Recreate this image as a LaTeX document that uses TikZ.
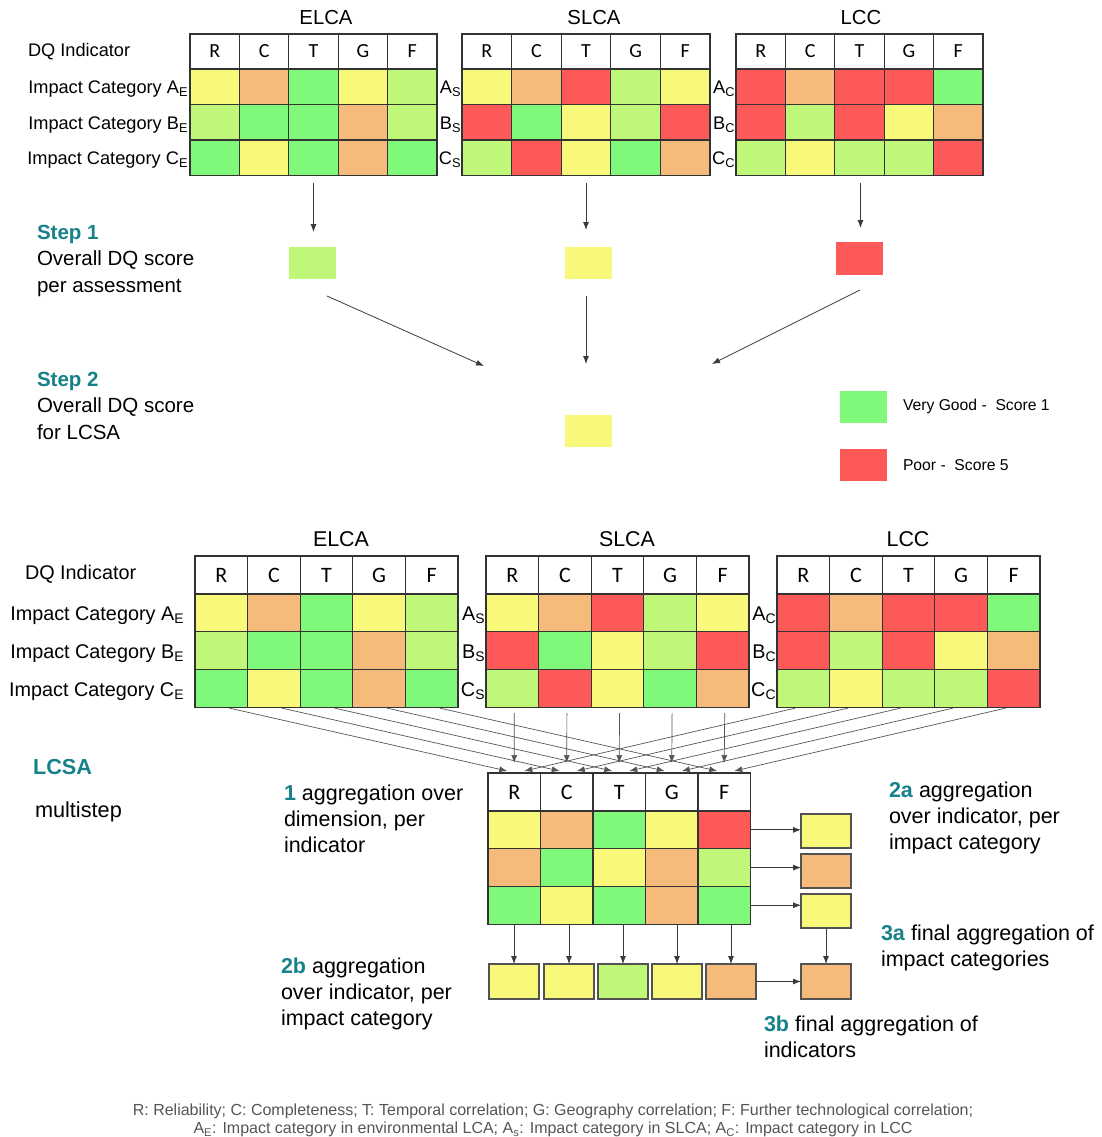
\documentclass[tikz,border=0pt]{standalone}
\usepackage{fontspec}
\setmainfont{Liberation Sans}
\newfontfamily\hdrfam{Carlito}
\usetikzlibrary{arrows.meta,calc}

% score colours
\definecolor{cG}{HTML}{80F97B}
\definecolor{cL}{HTML}{BFF878}
\definecolor{cY}{HTML}{F8F87A}
\definecolor{cO}{HTML}{F6BA7B}
\definecolor{cR}{HTML}{FD5959}
\definecolor{teal1}{HTML}{17818A}
\definecolor{gridc}{HTML}{333333}
\definecolor{linec}{HTML}{3A3A3A}
\definecolor{thinc}{HTML}{555555}
\definecolor{capc}{HTML}{555555}

\newcommand\setfs[2]{\fontsize{#1}{#2}\selectfont}

% DQ table: #1 name, #2 left, #3 top, #4 cell width, #5 header height,
% #6 row height, #7 header font size, #8 rows of cell colours
\newcommand\dqtable[8]{%
  \foreach \h [count=\c] in {R,C,T,G,F}
    \node[hcell,minimum width=#4,minimum height=#5,font=\hdrfam\setfs{#7}{#7}]
      (#1-h-\c) at ({#2+(\c-1)*#4},#3) {\h};
  \foreach \rowc [count=\r] in {#8} {
    \foreach \cc [count=\c] in \rowc
      \node[dcell,fill=\cc,minimum width=#4,minimum height=#6]
        (#1-\r-\c) at ({#2+(\c-1)*#4},{#3+#5+(\r-1)*#6}) {};
  }%
}

\begin{document}
\begin{tikzpicture}[x=1pt,y=-1pt,
  hcell/.style={draw=gridc,line width=1.2pt,fill=white,anchor=north west,inner sep=0pt,outer sep=0pt},
  dcell/.style={draw=gridc,line width=1.2pt,anchor=north west,inner sep=0pt,outer sep=0pt},
  txt/.style={inner sep=0pt,outer sep=0pt},
  arr/.style={draw=linec,line width=0.8pt,-{Latex[length=8pt,width=6pt]}},
  thinarr/.style={draw=thinc,line width=0.7pt,-{Latex[length=8pt,width=6pt]}},
  sbox/.style={minimum width=47pt,minimum height=32pt,inner sep=0pt,outer sep=0pt},
  abox/.style={draw=gridc!85,line width=1.2pt,minimum width=50pt,minimum height=34pt,inner sep=0pt,outer sep=0pt},
  toplab/.style={txt,font=\setfs{18.2}{20}},
  botlab/.style={txt,font=\setfs{19.8}{23}},
  blocktxt/.style={txt,anchor=north west,align=left,font=\setfs{21.5}{26}},
]
\useasboundingbox (0,0) rectangle (1101,1137);

% ---------- upper part: per-assessment tables ----------
\dqtable{te}{190}{34}{49.4}{35}{35.5}{20}{{cY,cO,cG,cY,cL},{cL,cG,cG,cO,cL},{cG,cY,cG,cO,cG}}
\dqtable{ts}{462}{34}{49.6}{35}{35.5}{20}{{cY,cO,cR,cL,cY},{cR,cG,cY,cL,cR},{cL,cR,cY,cG,cO}}
\dqtable{tc}{736}{34}{49.4}{35}{35.5}{20}{{cR,cO,cR,cR,cG},{cR,cL,cR,cY,cO},{cL,cY,cL,cL,cR}}

\node[txt,font=\setfs{20.3}{22}] (tte) at (326,18) {ELCA};
\node[txt,font=\setfs{20.3}{22}] (tts) at (594,18) {SLCA};
\node[txt,font=\setfs{20.3}{22}] (ttc) at (861,18) {LCC};

\node[toplab,anchor=mid west] (tdq) at (28,54) {DQ Indicator};
\node[toplab,anchor=mid east] (tia) at (188,91) {Impact Category A\textsubscript{E}};
\node[toplab,anchor=mid east] (tib) at (188,127) {Impact Category B\textsubscript{E}};
\node[toplab,anchor=mid east] (tic) at (188,162) {Impact Category C\textsubscript{E}};
\node[toplab,anchor=mid east] (tsa) at (461,91) {A\textsubscript{S}};
\node[toplab,anchor=mid east] (tsb) at (461,127) {B\textsubscript{S}};
\node[toplab,anchor=mid east] (tsc) at (461,162) {C\textsubscript{S}};
\node[toplab,anchor=mid east] (tca) at (735,91) {A\textsubscript{C}};
\node[toplab,anchor=mid east] (tcb) at (735,127) {B\textsubscript{C}};
\node[toplab,anchor=mid east] (tcc) at (735,162) {C\textsubscript{C}};

% step 1 scores
\node[sbox,fill=cL] (p1) at (312.5,263) {};
\node[sbox,fill=cY] (p2) at (588,263) {};
\node[sbox,fill=cR,minimum height=33pt] (p3) at (859.5,258.5) {};
\draw[arr] ($(te-3-3.south)+(0,7)$) -- ($(te-3-3.south |- p1.north)+(0,-15)$);
\draw[arr] ($(ts-3-3.south)+(0,7)$) -- ($(ts-3-3.south |- p2.north)+(0,-17)$);
\draw[arr] ($(tc-3-3.south)+(1,7)$) -- ($(tc-3-3.south |- p3.north)+(1,-14)$);

% step 2 score
\coordinate (q1) at (484,366);
\coordinate (q2) at (586,364);
\coordinate (q3) at (712,364);
\draw[arr] ($(p1.south)+(14.5,17)$) -- (q1);
\draw[arr] ($(p2.south)+(-2,17)$) -- (q2);
\draw[arr] ($(p3.south)+(0.5,15)$) -- (q3);
\node[sbox,fill=cY] (p4) at (588,431) {};

\node[txt,anchor=north west,align=left,font=\setfs{20.5}{26.5}] (st1) at (37,225)
  {\textcolor{teal1}{\textbf{Step 1}}\\Overall DQ score\\per assessment};
\node[txt,anchor=north west,align=left,font=\setfs{20.5}{26.5}] (st2) at (37,372)
  {\textcolor{teal1}{\textbf{Step 2}}\\Overall DQ score\\for LCSA};

% legend
\node[sbox,fill=cG] (lg1) at (863.5,407) {};
\node[sbox,fill=cR] (lg2) at (863.5,465) {};
\node[txt,anchor=mid west,font=\setfs{15.7}{18}] (lt1) at (903,408) {Very Good -\ \ Score 1};
\node[txt,anchor=mid west,font=\setfs{15.7}{18}] (lt2) at (903,468) {Poor -\ \ Score 5};

% ---------- lower part: multistep aggregation ----------
\dqtable{be}{195}{556}{52.6}{38}{37.7}{22}{{cY,cO,cG,cY,cL},{cL,cG,cG,cO,cL},{cG,cY,cG,cO,cG}}
\dqtable{bs}{486}{556}{52.6}{38}{37.7}{22}{{cY,cO,cR,cL,cY},{cR,cG,cY,cL,cR},{cL,cR,cY,cG,cO}}
\dqtable{bc}{777}{556}{52.6}{38}{37.7}{22}{{cR,cO,cR,cR,cG},{cR,cL,cR,cY,cO},{cL,cY,cL,cL,cR}}

\node[txt,font=\setfs{21.4}{23}] (bte) at (341,539) {ELCA};
\node[txt,font=\setfs{21.4}{23}] (bts) at (627,539) {SLCA};
\node[txt,font=\setfs{21.4}{23}] (btc) at (908,539) {LCC};

\node[botlab,anchor=mid west] (bdq) at (25,577) {DQ Indicator};
\node[botlab,anchor=mid east] (bia) at (184,618) {Impact Category A\textsubscript{E}};
\node[botlab,anchor=mid east] (bib) at (184,656) {Impact Category B\textsubscript{E}};
\node[botlab,anchor=mid east] (bic) at (184,694) {Impact Category C\textsubscript{E}};
\node[botlab,anchor=mid east] (bsa) at (485,618) {A\textsubscript{S}};
\node[botlab,anchor=mid east] (bsb) at (485,656) {B\textsubscript{S}};
\node[botlab,anchor=mid east] (bsc) at (485,694) {C\textsubscript{S}};
\node[botlab,anchor=mid east] (bca) at (776,618) {A\textsubscript{C}};
\node[botlab,anchor=mid east] (bcb) at (776,656) {B\textsubscript{C}};
\node[botlab,anchor=mid east] (bcc) at (776,694) {C\textsubscript{C}};

% aggregated table
\dqtable{ag}{488}{773}{52.5}{38}{37.7}{22}{{cY,cO,cG,cY,cR},{cO,cG,cY,cO,cL},{cG,cY,cG,cO,cG}}

% converging connectors into the aggregated table
\foreach \i in {1,...,5} {
  \draw[thinarr] ($(be-3-\i.south)+(8,1)$) -- ($(ag-h-\i.north)+(-7,-2)$);
  \draw[thinarr] ($(bs-3-\i.south)+(2,6)$) -- ($(ag-h-\i.north)+(0,-10)$);
  \draw[thinarr] ($(bc-3-\i.south)+(-8,1)$) -- ($(ag-h-\i.north)+(10,-2)$);
}

% per impact category (right) and per indicator (bottom)
\node[abox,fill=cY] (rb1) at (826,831) {};
\node[abox,fill=cO] (rb2) at (826,871) {};
\node[abox,fill=cY] (rb3) at (826,911) {};
\node[abox,fill=cY,minimum height=35pt] (bb1) at (514,981.5) {};
\node[abox,fill=cY,minimum height=35pt] (bb2) at (569,981.5) {};
\node[abox,fill=cL,minimum height=35pt] (bb3) at (623,981.5) {};
\node[abox,fill=cY,minimum height=35pt] (bb4) at (677,981.5) {};
\node[abox,fill=cO,minimum height=35pt] (bb5) at (731,981.5) {};
\node[abox,fill=cO,minimum height=35pt] (fb) at (826,981.5) {};

\foreach \i in {1,2,3}
  \draw[arr] (ag-\i-5.east) -- (ag-\i-5.east -| rb\i.west);
\foreach \i in {1,...,5}
  \draw[arr] (bb\i.north |- ag-3-\i.south) -- (bb\i.north);
\draw[arr] (rb3.south) -- (fb.north);
\draw[arr] (bb5.east) -- (fb.west);

% explanatory labels
\node[txt,anchor=mid west,font=\setfs{21.7}{24}\bfseries,text=teal1] (lcsa) at (33,772) {LCSA};
\node[txt,anchor=mid west,font=\setfs{21.7}{24}] (mstep) at (35,815) {multistep};
\node[blocktxt] (l1) at (284,785)
  {\textcolor{teal1}{\textbf{1}} aggregation over\\dimension, per\\indicator};
\node[blocktxt] (l2a) at (889,782)
  {\textcolor{teal1}{\textbf{2a}} aggregation\\over indicator, per\\impact category};
\node[blocktxt] (l3a) at (881,925)
  {\textcolor{teal1}{\textbf{3a}} final aggregation of\\impact categories};
\node[blocktxt] (l2b) at (281,958)
  {\textcolor{teal1}{\textbf{2b}} aggregation\\over indicator, per\\impact category};
\node[blocktxt] (l3b) at (764,1016)
  {\textcolor{teal1}{\textbf{3b}} final aggregation of\\indicators};

% abbreviations
\node[txt,align=center,anchor=north,font=\setfs{16}{18},text=capc] (cap) at (553,1104)
  {R: Reliability; C: Completeness; T: Temporal correlation; G: Geography correlation; F: Further technological correlation;\\
   A\textsubscript{E}: Impact category in environmental LCA; A\textsubscript{s}: Impact category in SLCA; A\textsubscript{C}: Impact category in LCC};
\end{tikzpicture}
\end{document}
